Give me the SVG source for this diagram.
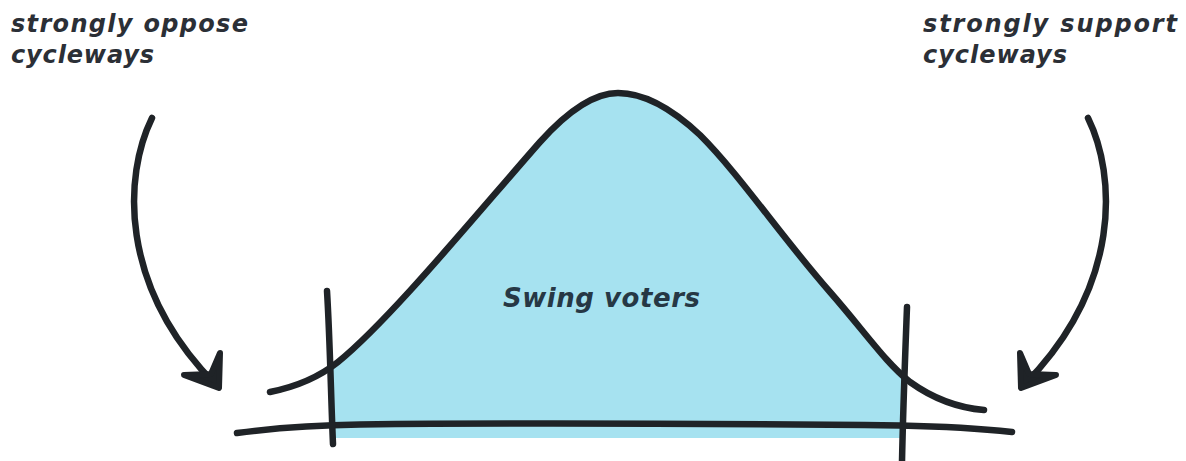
<svg xmlns="http://www.w3.org/2000/svg" width="1186" height="461" viewBox="0 0 1186 461">
  <defs>
    <style>
      .ink { fill: none; stroke: #1f2327; stroke-width: 6.5; stroke-linecap: round; stroke-linejoin: round; }
      .head { fill: #1f2327; stroke: #1f2327; stroke-width: 6; stroke-linejoin: round; stroke-linecap: round; }
      .lbl { font-family: "DejaVu Sans", "Liberation Sans", sans-serif; font-style: oblique; font-weight: bold; fill: #2b2f36; }
    </style>
    <clipPath id="fillClip">
      <rect x="331" y="0" width="573" height="438"/>
    </clipPath>
  </defs>
  <rect width="1186" height="461" fill="#ffffff"/>

  <g id="distribution">
    <path clip-path="url(#fillClip)" fill="#a6e2f0" stroke="none"
      d="M270,392 C295,387 318,378 338,362 C390,320 480,210 540,142 C575,103 600,93 618,93 C640,93 668,105 700,135 C740,175 780,235 830,292 C865,332 885,362 910,382 L910,438 L270,438 Z"/>
    <path class="ink"
      d="M270,392 C295,387 318,378 338,362 C390,320 480,210 540,142 C575,103 600,93 618,93 C640,93 668,105 700,135 C740,175 780,235 830,292 C865,332 885,362 910,382 C935,400 960,408 984,410"/>
  </g>

  <g id="axis">
    <path class="ink" d="M237,433 C275,428 315,425 360,424.5 C500,423 750,424 900,425.5 C950,426.5 985,429 1012,432"/>
  </g>

  <g id="left-boundary">
    <path class="ink" d="M327,291 C330,340 331,400 333,444"/>
  </g>
  <g id="right-boundary">
    <path class="ink" d="M907,307 C905,360 903,410 902,462"/>
  </g>

  <g id="label-swing">
    <text class="lbl" x="503" y="307" font-size="26" textLength="197" lengthAdjust="spacing" style="fill:#263845">Swing voters</text>
  </g>

  <g id="label-oppose">
    <text class="lbl" x="11" y="32" font-size="24" textLength="237" lengthAdjust="spacing">strongly oppose</text>
    <text class="lbl" x="11" y="63" font-size="24" textLength="143" lengthAdjust="spacing">cycleways</text>
  </g>

  <g id="label-support">
    <text class="lbl" x="923" y="32" font-size="24" textLength="254" lengthAdjust="spacing">strongly support</text>
    <text class="lbl" x="923" y="63" font-size="24" textLength="144" lengthAdjust="spacing">cycleways</text>
  </g>

  <g id="connectors">
    <path class="ink" d="M152,118 C124,175 118,285 215,384"/>
    <path class="head" d="M184,375 L219,388 L220,353 L211,374 Z"/>
    <path class="ink" d="M1088,118 C1116,175 1122,285 1025,384"/>
    <path class="head" d="M1056,375 L1021,388 L1020,353 L1029,374 Z"/>
  </g>
</svg>
